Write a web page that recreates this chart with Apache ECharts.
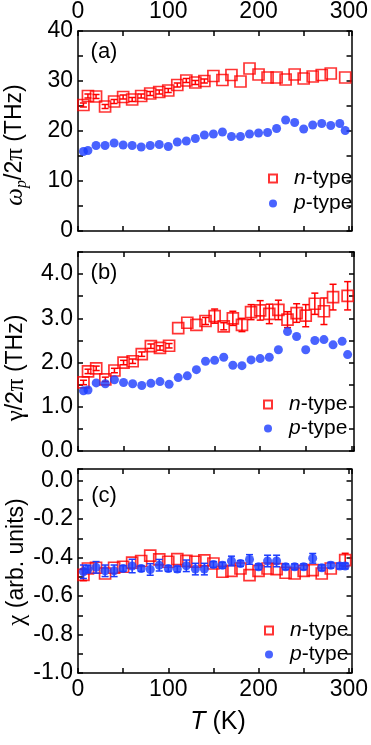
<!DOCTYPE html>
<html>
<head>
<meta charset="utf-8">
<script src="https://cdn.jsdelivr.net/npm/echarts@6/dist/echarts.min.js"></script>
<style>
  html, body { margin: 0; padding: 0; background: #fff; }
  #chart { width: 371px; height: 745px; }
</style>
</head>
<body>
<div id="chart"></div>
<script>
// temperatures (K)
const tempN = [6, 11, 20, 30, 40, 50, 60, 70, 80, 90, 100, 110, 120, 130, 140, 150, 160, 170, 180, 190, 200, 210, 220, 230, 240, 250, 260, 270, 280, 296];
const tempP = [6, 11, 20, 30, 40, 50, 60, 70, 80, 90, 100, 110, 120, 130, 140, 150, 160, 170, 180, 190, 200, 210, 220, 230, 240, 250, 260, 270, 280, 290, 296];

// (a) plasma frequency wp/2pi (THz)
const omegaN    = [25.2, 27.0, 26.9, 24.9, 25.9, 26.8, 26.3, 27.0, 27.5, 27.8, 28.1, 29.2, 30.1, 29.7, 30.0, 31.0, 30.2, 31.2, 29.9, 32.5, 31.3, 30.7, 30.7, 30.3, 31.3, 30.5, 30.9, 31.2, 31.5, 30.7];
const omegaNErr = [0.4, 0.4, 0.4, 0.4, 0.4, 0.4, 0.4, 0.4, 0.4, 0.4, 0.4, 0.4, 0.4, 0.4, 0.4, 0, 0, 0, 0, 0, 0, 0, 0, 0, 0, 0, 0, 0, 0, 0];
const omegaP    = [15.9, 16.1, 17.1, 17.1, 17.6, 17.2, 17.1, 16.8, 17.1, 17.3, 16.9, 17.8, 18.0, 18.5, 19.2, 19.4, 19.8, 18.9, 18.9, 19.4, 19.6, 19.7, 20.5, 22.2, 21.7, 20.4, 21.2, 21.5, 21.1, 21.5, 20.1];

// (b) scattering rate gamma/2pi (THz)
const gammaN    = [1.55, 1.80, 1.87, 1.62, 1.82, 2.00, 2.03, 2.19, 2.37, 2.33, 2.38, 2.78, 2.90, 2.85, 2.94, 3.05, 2.82, 3.00, 2.85, 3.14, 3.18, 3.10, 3.19, 2.97, 3.12, 3.06, 3.33, 3.16, 3.48, 3.51];
const gammaNErr = [0.05, 0.05, 0.05, 0.05, 0.05, 0.05, 0.05, 0.05, 0.05, 0.05, 0.05, 0, 0, 0, 0.08, 0.16, 0.08, 0.16, 0.15, 0.17, 0.22, 0.22, 0.22, 0.18, 0.21, 0.25, 0.24, 0.30, 0.29, 0.32];
const gammaP    = [1.36, 1.38, 1.54, 1.52, 1.61, 1.55, 1.52, 1.48, 1.53, 1.57, 1.51, 1.66, 1.70, 1.84, 2.03, 2.05, 2.12, 1.94, 1.93, 2.06, 2.09, 2.12, 2.29, 2.70, 2.59, 2.29, 2.50, 2.52, 2.40, 2.48, 2.18];

// (c) chi (arb. units)
const chiN    = [-0.490, -0.457, -0.453, -0.483, -0.453, -0.448, -0.427, -0.418, -0.390, -0.410, -0.422, -0.408, -0.417, -0.422, -0.415, -0.431, -0.474, -0.469, -0.457, -0.491, -0.469, -0.457, -0.460, -0.479, -0.483, -0.469, -0.465, -0.483, -0.457, -0.413];
const chiNErr = [0.03, 0, 0, 0, 0, 0, 0, 0, 0, 0, 0, 0, 0, 0, 0, 0, 0, 0, 0, 0, 0, 0, 0, 0, 0, 0, 0, 0, 0, 0.035];
const chiP    = [-0.474, -0.460, -0.451, -0.469, -0.469, -0.457, -0.444, -0.457, -0.462, -0.440, -0.457, -0.460, -0.443, -0.460, -0.460, -0.436, -0.440, -0.418, -0.431, -0.410, -0.448, -0.418, -0.418, -0.448, -0.448, -0.448, -0.404, -0.453, -0.440, -0.444, -0.444];
const chiPErr = [0.035, 0.02, 0.03, 0.03, 0.03, 0.015, 0.035, 0.015, 0.03, 0.03, 0.015, 0.015, 0.03, 0.03, 0.03, 0.015, 0.015, 0.025, 0.015, 0.025, 0.015, 0.03, 0.03, 0.015, 0.015, 0.015, 0.025, 0.015, 0.015, 0.015, 0.015];

const RED = '#ff0000';
const BLUE = '#1c3cff';
const FONT = 'Liberation Sans, Arial, sans-serif';
const SERIF = 'Liberation Serif, DejaVu Serif, serif';
const AX = { color: '#000', width: 1.5 };
const TICK_FS = 23;

const chart = echarts.init(document.getElementById('chart'), null, { renderer: 'canvas' });

const pairs = (xs, ys) => xs.map((x, i) => [x, ys[i]]);
const errs = (xs, ys, es) => xs.map((x, i) => [x, ys[i] - es[i], ys[i] + es[i]]).filter((d, i) => es[i] > 0);

function xAxis(grid, pos, labels) {
  return {
    type: 'value', gridIndex: grid, position: pos, min: 0, max: 303, interval: 50,
    axisLine: { show: true, onZero: false, lineStyle: AX },
    axisTick: { show: true, inside: true, length: 5, lineStyle: AX },
    splitLine: { show: false },
    axisLabel: {
      show: labels, margin: pos === 'top' ? 8 : 5, fontSize: TICK_FS, color: '#000', fontFamily: FONT,
      formatter: v => (Math.abs(v % 100) < 1e-6 ? String(v) : '')
    }
  };
}

function yAxis(grid, pos, min, max, step, major, digits, labels) {
  return {
    type: 'value', gridIndex: grid, position: pos, min: min, max: max, interval: step,
    axisLine: { show: true, onZero: false, lineStyle: AX },
    axisTick: { show: true, inside: true, length: 5, lineStyle: AX },
    splitLine: { show: false },
    axisLabel: {
      show: labels, margin: 5, fontSize: TICK_FS, color: '#000', fontFamily: FONT,
      formatter: v => {
        const k = v / major;
        return Math.abs(k - Math.round(k)) < 1e-6 ? v.toFixed(digits) : '';
      }
    }
  };
}

function errSeries(grid, data, color) {
  return {
    type: 'custom', name: 'err', xAxisIndex: grid, yAxisIndex: grid, z: 4,
    encode: { x: 0, y: [1, 2] },
    data: data,
    renderItem: (params, api) => {
      const top = api.coord([api.value(0), api.value(2)]);
      const bot = api.coord([api.value(0), api.value(1)]);
      const w = 3.5;
      const st = { stroke: color, lineWidth: 1.5 };
      return {
        type: 'group', children: [
          { type: 'line', shape: { x1: top[0], y1: top[1], x2: bot[0], y2: bot[1] }, style: st },
          { type: 'line', shape: { x1: top[0] - w, y1: top[1], x2: top[0] + w, y2: top[1] }, style: st },
          { type: 'line', shape: { x1: bot[0] - w, y1: bot[1], x2: bot[0] + w, y2: bot[1] }, style: st }
        ]
      };
    }
  };
}

function nSeries(grid, ys) {
  return {
    type: 'scatter', name: 'n-type', xAxisIndex: grid, yAxisIndex: grid, z: 3,
    symbol: 'rect', symbolSize: 11,
    itemStyle: { color: 'rgba(255,255,255,0)', borderColor: RED, borderWidth: 1.7 },
    data: pairs(tempN, ys)
  };
}

function pSeries(grid, ys) {
  return {
    type: 'scatter', name: 'p-type', xAxisIndex: grid, yAxisIndex: grid, z: 5,
    symbol: 'circle', symbolSize: 9,
    itemStyle: { color: BLUE },
    data: pairs(tempP, ys)
  };
}

function legend(left, top, gap) {
  return {
    orient: 'vertical', left: left, top: top, itemGap: gap, itemWidth: 8, itemHeight: 8,
    data: ['n-type', 'p-type'], selectedMode: false,
    formatter: name => '{g|}{i|' + name[0] + '}{t|-type}',
    textStyle: {
      color: '#000', fontSize: 21, fontFamily: FONT,
      rich: {
        g: { width: 12 },
        i: { fontStyle: 'italic', fontSize: 21, fontFamily: FONT, color: '#000' },
        t: { fontSize: 21, fontFamily: FONT, color: '#000' }
      }
    }
  };
}

const titleRich = {
  g: { fontFamily: SERIF, fontSize: 25, fill: '#000', lineHeight: 30, verticalAlign: 'middle' },
  gi: { fontFamily: SERIF, fontStyle: 'italic', fontSize: 25, fill: '#000', lineHeight: 30, verticalAlign: 'middle' },
  s: { fontFamily: SERIF, fontStyle: 'italic', fontSize: 16, fill: '#000', lineHeight: 16, verticalAlign: 'bottom' },
  n: { fontFamily: FONT, fontSize: 23, fill: '#000', lineHeight: 30, verticalAlign: 'middle' },
  i: { fontFamily: FONT, fontStyle: 'italic', fontSize: 25, fill: '#000', lineHeight: 30, verticalAlign: 'middle' },
  k: { fontFamily: FONT, fontSize: 25, fill: '#000', lineHeight: 30, verticalAlign: 'middle' }
};

function label(x, y, text) {
  return { type: 'text', x: x, y: y, style: { text: text, fill: '#000', fontSize: 22, fontFamily: FONT, align: 'center', verticalAlign: 'middle' } };
}
function vtitle(x, y, text) {
  return { type: 'text', x: x, y: y, rotation: Math.PI / 2, style: { text: text, rich: titleRich, align: 'center', verticalAlign: 'middle' } };
}

const option = {
  animation: false,
  backgroundColor: '#fff',
  grid: [
    { left: 78, right: 17, top: 30, height: 201 },
    { left: 78, right: 17, top: 252, height: 199 },
    { left: 78, right: 17, top: 469, height: 204 }
  ],
  xAxis: [
    xAxis(0, 'bottom', false), xAxis(1, 'bottom', false), xAxis(2, 'bottom', true),
    xAxis(0, 'top', true), xAxis(1, 'top', false), xAxis(2, 'top', false)
  ],
  yAxis: [
    yAxis(0, 'left', 0, 40, 5, 10, 0, true),
    yAxis(1, 'left', 0, 4.5, 0.5, 1, 1, true),
    yAxis(2, 'left', -1.0, 0.06, 0.1, 0.2, 1, true),
    yAxis(0, 'right', 0, 40, 5, 10, 0, false),
    yAxis(1, 'right', 0, 4.5, 0.5, 1, 1, false),
    yAxis(2, 'right', -1.0, 0.06, 0.1, 0.2, 1, false)
  ],
  legend: [legend(263, 163, 4), legend(258, 389, 3), legend(259, 615, 3)],
  series: [
    nSeries(0, omegaN), errSeries(0, errs(tempN, omegaN, omegaNErr), RED), pSeries(0, omegaP),
    nSeries(1, gammaN), errSeries(1, errs(tempN, gammaN, gammaNErr), RED), pSeries(1, gammaP),
    nSeries(2, chiN), errSeries(2, errs(tempN, chiN, chiNErr), RED),
    pSeries(2, chiP), Object.assign(errSeries(2, errs(tempP, chiP, chiPErr), BLUE), { z: 6 })
  ],
  graphic: [
    label(104, 52, '(a)'),
    label(104, 273, '(b)'),
    label(104, 496, '(c)'),
    vtitle(15, 145, '{gi|ω}{s|p}{n|/2}{g|π}{n| (THz)}'),
    vtitle(16, 368, '{g|γ}{n|/2}{g|π}{n| (THz)}'),
    vtitle(17, 562, '{g|χ}{n| (arb. units)}'),
    { type: 'text', x: 218, y: 722, style: { text: '{i|T}{k| (K)}', rich: titleRich, align: 'center', verticalAlign: 'middle' } }
  ]
};

chart.setOption(option);
</script>
</body>
</html>
